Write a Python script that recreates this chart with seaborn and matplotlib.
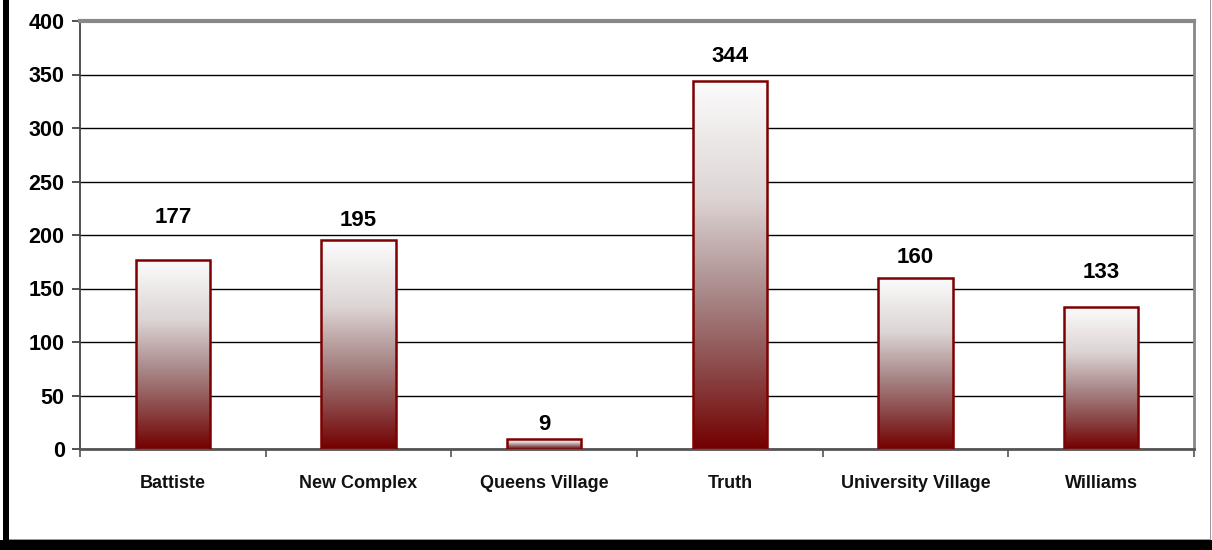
import numpy as np
import pandas as pd
import matplotlib
matplotlib.use("Agg")
import matplotlib.pyplot as plt
from matplotlib import font_manager
from matplotlib.colors import LinearSegmentedColormap
from matplotlib.patches import Rectangle
from matplotlib.ticker import FixedLocator
import seaborn as sns

# Residents per hall
categories = ["Battiste", "New Complex", "Queens Village", "Truth",
              "University Village", "Williams"]
values = [177, 195, 9, 344, 160, 133]
y_ticks = [0, 50, 100, 150, 200, 250, 300, 350, 400]

sns.set_theme(style="white")

installed = {f.name for f in font_manager.fontManager.ttflist}
narrow = "Liberation Sans Narrow" if "Liberation Sans Narrow" in installed else "Liberation Sans"
plt.rcParams["font.family"] = [narrow, "DejaVu Sans"]

W, H = 1212, 550
fig = plt.figure(figsize=(W / 100, H / 100), dpi=100)
fig.patch.set_facecolor("white")
ax = fig.add_axes([80 / W, (H - 449) / H, (1194 - 80) / W, (449 - 21) / H])

df = pd.DataFrame({"hall": categories, "count": values})
sns.barplot(data=df, x="hall", y="count", width=0.4, ax=ax,
            facecolor=(1, 1, 1, 0), edgecolor="#7f0000", linewidth=1.8,
            errorbar=None, zorder=3)

# maroon-to-white vertical fill inside each bar
grad = LinearSegmentedColormap.from_list(
    "maroon_fade",
    [(0.0, "#740000"), (0.2, "#8a4444"), (0.42, "#a98888"),
     (0.68, "#ddd4d4"), (1.0, "#fcfcfc")])
ramp = np.linspace(0, 1, 256).reshape(-1, 1)
for bar in ax.patches:
    x0, y0 = bar.get_x(), bar.get_y()
    w, h = bar.get_width(), bar.get_height()
    im = ax.imshow(ramp, cmap=grad, origin="lower", aspect="auto",
                   extent=(x0, x0 + w, y0, y0 + h), zorder=2,
                   interpolation="bilinear")
    im.set_clip_path(bar)

ax.set_xlim(-0.5, len(categories) - 0.5)
ax.set_ylim(0, 400)
ax.set_xlabel("")
ax.set_ylabel("")

# grid
ax.yaxis.set_major_locator(FixedLocator(y_ticks))
ax.grid(axis="y", color="black", linewidth=1.0, zorder=1)
ax.grid(axis="x", visible=False)
ax.set_axisbelow(True)

# spines
for side in ("top", "right"):
    ax.spines[side].set_color("#888888")
ax.spines["top"].set_linewidth(3)
ax.spines["right"].set_linewidth(2)
ax.spines["left"].set_color("#444444")
ax.spines["left"].set_linewidth(1.3)
ax.spines["bottom"].set_color("#555555")
ax.spines["bottom"].set_linewidth(2)

# ticks
ax.set_yticks(y_ticks)
ax.set_yticklabels([str(t) for t in y_ticks])
ax.tick_params(axis="y", which="major", length=6, width=1.2, color="#333333",
               direction="out", left=True, pad=5, labelsize=15.5)
for lab in ax.get_yticklabels():
    lab.set_fontweight("bold")
    lab.set_color("black")

ax.set_xticks(range(len(categories)))
ax.set_xticklabels(categories)
ax.tick_params(axis="x", which="major", length=0, pad=19, labelsize=13)
for lab in ax.get_xticklabels():
    lab.set_fontweight("bold")
    lab.set_color("#111111")
ax.xaxis.set_minor_locator(FixedLocator(np.arange(-0.5, len(categories), 1.0)))
ax.tick_params(axis="x", which="minor", length=6, width=1.2, color="#555555",
               direction="out", bottom=True)

# value labels above bars
label_gap_pt = [26, 10, 6.5, 13.5, 10.5, 21]
for bar, v, gap in zip(ax.patches, values, label_gap_pt):
    ax.annotate(str(v), (bar.get_x() + bar.get_width() / 2, v),
                xytext=(0, gap), textcoords="offset points",
                ha="center", va="baseline", fontsize=16, fontweight="bold",
                color="black", zorder=5)

# outer frame with drop shadow
fig.patches.append(Rectangle((3 / W, 0), 6 / W, 1, transform=fig.transFigure,
                             facecolor="black", edgecolor="none"))
fig.patches.append(Rectangle((0, 0), 1, 10 / H, transform=fig.transFigure,
                             facecolor="black", edgecolor="none"))
fig.patches.append(Rectangle((9 / W, 10 / H), (1211 - 9) / W, 1 / H,
                             transform=fig.transFigure, facecolor="#999999",
                             edgecolor="none"))
fig.patches.append(Rectangle((1210 / W, 10 / H), 1.2 / W, 1,
                             transform=fig.transFigure, facecolor="#999999",
                             edgecolor="none"))

fig.savefig("out.png", dpi=100)
